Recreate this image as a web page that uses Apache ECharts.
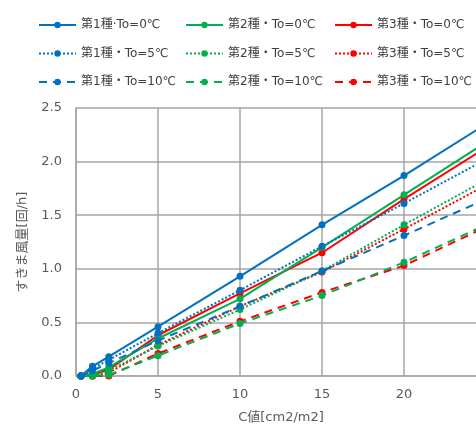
<!DOCTYPE html>
<html><head><meta charset="utf-8">
<script src="https://cdn.jsdelivr.net/npm/echarts@6/dist/echarts.min.js"></script>
<style>html,body{margin:0;padding:0;background:#fff}#c{width:476px;height:431px}</style>
</head><body><div id="c"></div>
<script>
const xValues = [0.3, 1, 2, 5, 10, 15, 20, 25];
const names = ['第1種·To=0℃','第2種・To=0℃','第3種・To=0℃','第1種・To=5℃','第2種・To=5℃','第3種・To=5℃','第1種・To=10℃','第2種・To=10℃','第3種・To=10℃'];
const s1t0  = [0, 0.09, 0.18, 0.46, 0.93, 1.41, 1.87, 2.35];
const s2t0  = [0, 0.02, 0.08, 0.35, 0.72, 1.20, 1.69, 2.18];
const s3t0  = [0, 0.01, 0.06, 0.38, 0.77, 1.15, 1.65, 2.13];
const s1t5  = [0, 0.07, 0.15, 0.40, 0.80, 1.21, 1.61, 2.02];
const s2t5  = [0, 0.01, 0.05, 0.28, 0.62, 0.98, 1.41, 1.83];
const s3t5  = [0, 0, 0.03, 0.29, 0.65, 0.97, 1.37, 1.78];
const s1t10 = [0, 0.05, 0.12, 0.33, 0.65, 0.98, 1.31, 1.65];
const s2t10 = [0, 0, 0.01, 0.19, 0.49, 0.75, 1.06, 1.41];
const s3t10 = [0, 0, 0, 0.21, 0.51, 0.78, 1.03, 1.39];
const yTicks = [0, 0.5, 1.0, 1.5, 2.0, 2.5];
const xTicks = [0, 5, 10, 15, 20, 25];

const blue = '#0070C0', green = '#00B050', red = '#FF0000';
const FONT = '"DejaVu Sans", "Noto Sans CJK JP", sans-serif';
const defs = [
  [s1t0, blue, 'solid'], [s2t0, green, 'solid'], [s3t0, red, 'solid'],
  [s1t5, blue, [2,2]], [s2t5, green, [2,2]], [s3t5, red, [2,2]],
  [s1t10, blue, [8,6]], [s2t10, green, [8,6]], [s3t10, red, [8,6]]
];
const series = defs.map((d, i) => ({
  name: names[i], type: 'line',
  data: xValues.map((x, j) => [x, d[0][j]]),
  symbol: 'circle', symbolSize: 7, showSymbol: true,
  lineStyle: { color: d[1], width: 2, type: d[2] },
  itemStyle: { color: d[1] },
  z: 10 - (i % 3)
}));
const legendCol = (left, idx) => ({
  left: left, top: 14, orient: 'vertical',
  itemWidth: 37, itemHeight: 8, itemGap: 16.5,
  data: idx.map(i => names[i]),
  textStyle: { fontFamily: FONT, fontSize: 12, color: '#404040', padding: [0, 0, 0, 0] }
});
const chart = echarts.init(document.getElementById('c'));
chart.setOption({
  animation: false,
  legend: [legendCol(33, [0,3,6]), legendCol(180, [1,4,7]), legendCol(329, [2,5,8])],
  grid: { left: 76, right: -10, top: 108, bottom: 55, outerBoundsMode: 'none', containLabel: false },
  xAxis: {
    type: 'value', min: xTicks[0], max: xTicks[xTicks.length-1], interval: 5,
    name: 'C値[cm2/m2]', nameLocation: 'middle', nameGap: 35,
    nameTextStyle: { fontFamily: FONT, fontSize: 13, color: '#595959' },
    axisLine: { show: true, lineStyle: { color: '#a6a6a6', width: 1.5 } },
    axisTick: { show: false },
    axisLabel: { fontFamily: FONT, fontSize: 13, color: '#595959', margin: 12 },
    splitLine: { show: true, lineStyle: { color: '#a6a6a6', width: 1.5 } }
  },
  yAxis: {
    type: 'value', min: yTicks[0], max: yTicks[yTicks.length-1], interval: 0.5,
    name: 'すきま風量[回/h]', nameLocation: 'middle', nameGap: 47,
    nameTextStyle: { fontFamily: FONT, fontSize: 13, color: '#595959' },
    axisLine: { show: true, lineStyle: { color: '#a6a6a6', width: 1.5 } },
    axisTick: { show: false },
    axisLabel: { fontFamily: FONT, fontSize: 13, color: '#595959', margin: 14, formatter: v => v.toFixed(1) },
    splitLine: { show: true, lineStyle: { color: '#a6a6a6', width: 1.5 } }
  },
  series: series
});
</script></body></html>
